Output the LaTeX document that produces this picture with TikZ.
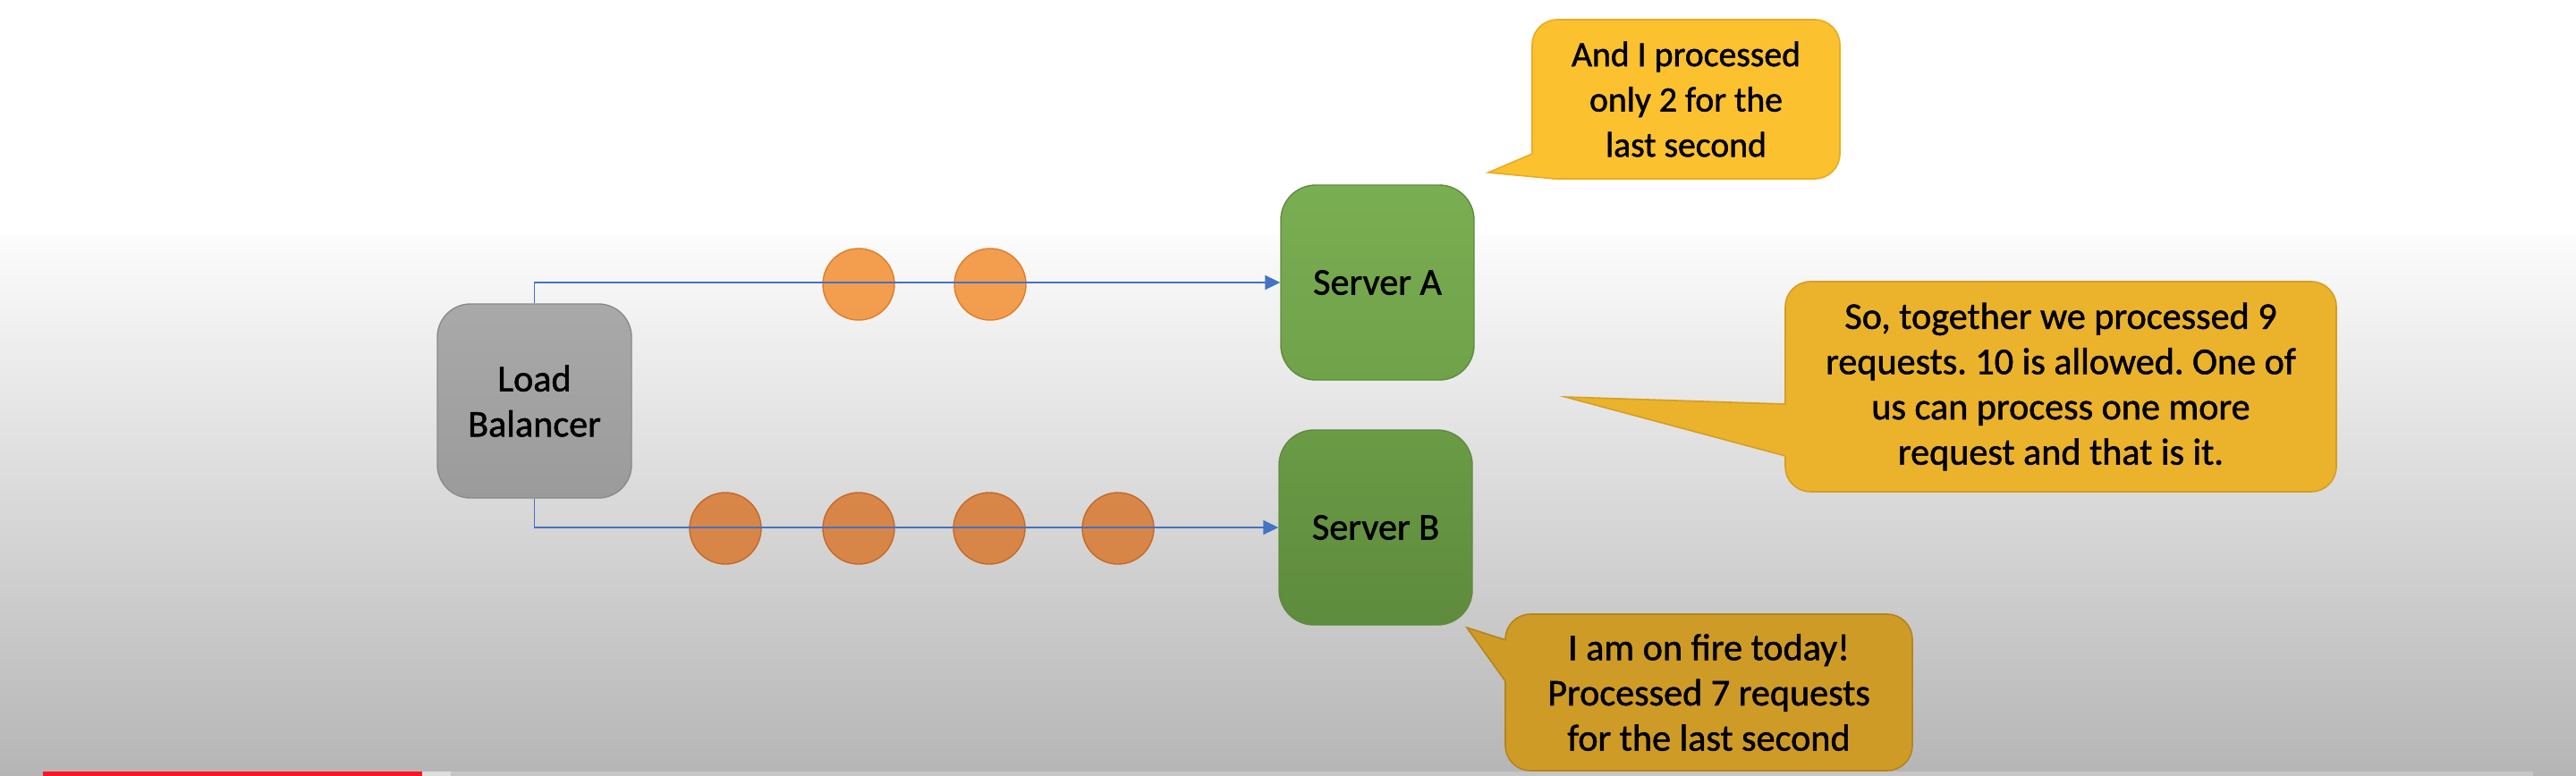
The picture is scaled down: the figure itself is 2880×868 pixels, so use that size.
\documentclass[tikz,border=0pt]{standalone}
\usepackage{fontspec}
\setmainfont{Carlito}[FakeBold=1.3]
\frenchspacing
\usetikzlibrary{arrows.meta}
\definecolor{lbtop}{HTML}{A9A9A9}
\definecolor{lbbot}{HTML}{9B9B9B}
\definecolor{lbdraw}{HTML}{8A8A8A}
\definecolor{gAtop}{HTML}{7AAE52}
\definecolor{gAbot}{HTML}{70A24A}
\definecolor{gBtop}{HTML}{6A9B45}
\definecolor{gBbot}{HTML}{5E8B3D}
\definecolor{gdraw}{HTML}{5F8A40}
\definecolor{ballA}{HTML}{F39238}
\definecolor{ballAd}{HTML}{DD7E2C}
\definecolor{ballB}{HTML}{D97B35}
\definecolor{ballBd}{HTML}{C46A28}
\definecolor{flowblue}{HTML}{4472C4}
\definecolor{cA}{HTML}{FBC12F}
\definecolor{cAd}{HTML}{E8AB22}
\definecolor{cM}{HTML}{EBB32C}
\definecolor{cMd}{HTML}{D49E22}
\definecolor{cB}{HTML}{CF9B27}
\definecolor{cBd}{HTML}{B3851E}
\definecolor{bgbot}{HTML}{B5B5B5}
\definecolor{bgmid}{HTML}{FCFCFC}
\definecolor{ytred}{HTML}{FF1424}
\definecolor{ytlight}{HTML}{DEDEDE}
\definecolor{ytgray}{HTML}{C6C6C6}
\begin{document}
\begin{tikzpicture}[x=0.1mm,y=-0.1mm,
  txt/.style={font=\fontsize{12pt}{14.4pt}\selectfont, text=black, align=center},
  lbbox/.style={txt, rounded corners=3.7mm, minimum width=21.7mm, minimum height=21.7mm, inner sep=0pt,
    top color=lbtop, bottom color=lbbot, draw=lbdraw, line width=0.4pt},
  srvbox/.style={txt, rounded corners=3.9mm, minimum width=21.6mm, minimum height=21.8mm, inner sep=0pt,
    draw=gdraw, line width=0.4pt},
  ball/.style={circle, minimum size=8mm, inner sep=0pt, line width=0.4pt, fill opacity=0.88},
  flow/.style={draw=flowblue, line width=0.55pt, -{Triangle[length=1.7mm,width=1.6mm]}},
  callout/.style={txt, rounded corners=2.8mm, inner sep=0pt, line width=0.45pt}
]
% background
\useasboundingbox (0,0) rectangle (2880,868);
\fill[white] (0,0) rectangle (2880,263);
\shade[top color=bgmid, bottom color=bgbot] (0,262) rectangle (2880,868);

% request balls
\node[ball, fill=ballA, draw=ballAd] (a1) at (960,318) {};
\node[ball, fill=ballA, draw=ballAd] (a2) at (1107,318) {};
\node[ball, fill=ballB, draw=ballBd] (b1) at (811,591) {};
\node[ball, fill=ballB, draw=ballBd] (b2) at (960,591) {};
\node[ball, fill=ballB, draw=ballBd] (b3) at (1106,591) {};
\node[ball, fill=ballB, draw=ballBd] (b4) at (1250,591) {};

% main boxes
\node[lbbox] (lb) at (597.5,448.5) {Load\\Balancer};
\node[srvbox, top color=gAtop, bottom color=gAbot] (sa) at (1540,316) {Server A};
\node[srvbox, top color=gBtop, bottom color=gBbot] (sb) at (1538,590) {Server B};

% connectors
\draw[flow] (lb.north) |- (sa.west);
\draw[flow] (lb.south) |- (sb.west);

% callout A (top)
\node[callout, fill=cA, draw=cAd, minimum width=34.4mm, minimum height=17.8mm,
  font=\fontsize{11.3pt}{14.4pt}\selectfont] (ca) at (1885,111)
  {And I processed\\only 2 for the\\last second};
\coordinate (caTip) at (1664,193);
\coordinate (caP) at (1713,172);
\coordinate (caQ) at (1738,200);
\fill[cA] (caTip) -- (caP) -- (1748,178) -- (caQ) -- cycle;
\draw[cAd, line width=0.45pt] (caP) -- (caTip) -- (caQ);

% callout M (middle)
\node[callout, fill=cM, draw=cMd, minimum width=61.6mm, minimum height=23.5mm] (cm) at (2304,432.5)
  {So, together we processed 9\\requests. 10 is allowed. One of\\us can process one more\\request and that is it.};
\coordinate (cmTip) at (1750,444);
\coordinate (cmP) at (1996,452);
\coordinate (cmQ) at (1996,510);
\fill[cM] (cmTip) -- (cmP) -- (2004,452) -- (2004,510) -- (cmQ) -- cycle;
\draw[cMd, line width=0.45pt] (cmP) -- (cmTip) -- (cmQ);

% callout B (bottom)
\node[callout, fill=cB, draw=cBd, minimum width=45.5mm, minimum height=17.5mm] (cb) at (1910.5,774.5)
  {I am on fire today!\\Processed 7 requests\\for the last second};
\coordinate (cbTip) at (1640,702);
\coordinate (cbP) at (1684,716);
\coordinate (cbQ) at (1683,762);
\fill[cB] (cbTip) -- (cbP) -- (1700,700) -- (1692,762) -- (cbQ) -- cycle;
\draw[cBd, line width=0.45pt] (cbP) -- (cbTip) -- (cbQ);

% progress bar
\fill[ytgray] (504,863) rectangle (2832,868);
\fill[ytlight] (472,863) rectangle (504,868);
\fill[ytred] (48,863) rectangle (472,868);
\end{tikzpicture}
\end{document}
